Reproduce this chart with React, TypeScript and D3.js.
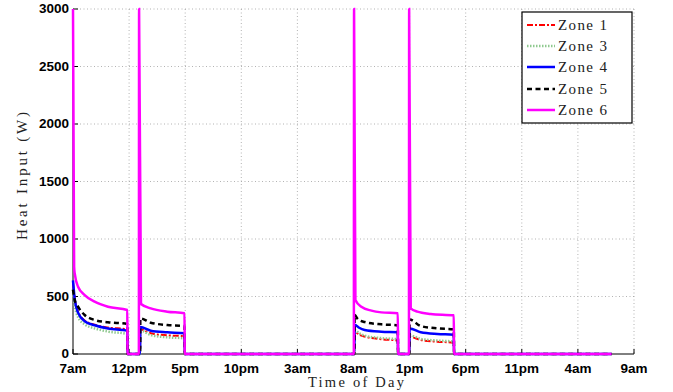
import React from "react";
import * as d3 from "d3";

// Time axis: hours after 7am on day one
const tickHours = [0, 5, 10, 15, 20, 25, 30, 35, 40, 45, 50];
const tickLabels = ["7am", "12pm", "5pm", "10pm", "3am", "8am", "1pm", "6pm", "11pm", "4am", "9am"];
const wattTicks = [0, 500, 1000, 1500, 2000, 2500, 3000];

// Heat input per zone as [hour, watts]
const zone1: [number, number][] = [
  [0, 620], [0.15, 490], [0.45, 370], [1.04, 292], [1.93, 255], [3.12, 230], [4.84, 215], [4.86, 0],
  [5.98, 0], [6.0, 215], [6.93, 180], [8.4, 162], [9.94, 155], [9.96, 0],
  [25.08, 0], [25.1, 195], [25.5, 168], [26.0, 151], [27.48, 128], [28.95, 116], [28.97, 0],
  [29.98, 0], [30.0, 150], [30.99, 122], [32.47, 107], [33.94, 98], [33.96, 0],
  [48, 0],
];
const zone3: [number, number][] = [
  [0, 560], [0.15, 430], [0.45, 320], [1.04, 258], [1.93, 223], [3.12, 195], [4.84, 174], [4.86, 0],
  [5.98, 0], [6.0, 205], [6.93, 165], [8.4, 145], [9.94, 136], [9.96, 0],
  [25.08, 0], [25.1, 210], [25.5, 180], [26.0, 160], [27.48, 138], [28.95, 128], [28.97, 0],
  [29.98, 0], [30.0, 162], [30.99, 132], [32.47, 117], [33.94, 108], [33.96, 0],
  [48, 0],
];
const zone4: [number, number][] = [
  [0, 640], [0.15, 480], [0.45, 360], [1.04, 285], [1.93, 250], [3.12, 222], [4.84, 203], [4.86, 0],
  [5.98, 0], [6.0, 235], [6.93, 203], [8.4, 189], [9.94, 180], [9.96, 0],
  [25.08, 0], [25.1, 255], [25.5, 228], [26.0, 209], [27.48, 194], [28.95, 189], [28.97, 0],
  [29.98, 0], [30.0, 222], [30.99, 189], [32.47, 174], [33.94, 168], [33.96, 0],
  [48, 0],
];
const zone5: [number, number][] = [
  [0, 560], [0.15, 470], [0.45, 411], [1.04, 339], [1.93, 296], [3.12, 276], [4.84, 261], [4.86, 0],
  [5.98, 0], [6.0, 310], [6.93, 272], [8.4, 252], [9.94, 243], [9.96, 0],
  [25.08, 0], [25.1, 340], [25.4, 301], [26.0, 278], [27.48, 258], [28.95, 250], [28.97, 0],
  [29.98, 0], [30.0, 300], [30.99, 243], [32.47, 223], [33.94, 215], [33.96, 0],
  [48, 0],
];
const zone6: [number, number][] = [
  [0, 3000], [0.1, 760], [0.15, 702], [0.45, 585], [1.04, 513], [1.93, 455], [3.12, 411], [4.84, 383], [4.86, 0],
  [5.87, 0], [5.89, 3000], [6.06, 435], [6.93, 397], [8.4, 368], [9.94, 354], [9.96, 0],
  [25.03, 0], [25.05, 3000], [25.17, 470], [25.7, 411], [26.6, 377], [27.48, 362], [28.95, 354], [28.97, 0],
  [29.94, 0], [29.96, 3000], [30.1, 397], [30.69, 368], [31.88, 348], [33.94, 336], [33.96, 0],
  [48, 0],
];

const zoneNames = ["Zone 1", "Zone 3", "Zone 4", "Zone 5", "Zone 6"];
const zoneData = [zone1, zone3, zone4, zone5, zone6];
const zoneStyles = [
  { color: "#ff0000", width: 2, dash: "6,2,2,2" },
  { color: "#8fc98f", width: 2.5, dash: "1.5,1.5" },
  { color: "#0000ff", width: 2.5, dash: "" },
  { color: "#000000", width: 2.5, dash: "5,3.5" },
  { color: "#ff00ff", width: 2.5, dash: "" },
];

const W = 673;
const H = 392;
const M = { left: 73, right: 634, top: 9, bottom: 354 };

export default function App() {
  const x = d3.scaleLinear().domain([0, 50]).range([M.left, M.right]);
  const y = d3.scaleLinear().domain([0, 3000]).range([M.bottom, M.top]);
  const line = d3
    .line<[number, number]>()
    .x((d) => x(d[0]))
    .y((d) => y(d[1]))
    .curve(d3.curveMonotoneX);

  const tickFont = "'Liberation Sans', Arial, Helvetica, sans-serif";
  const serif = "'Liberation Serif', 'DejaVu Serif', serif";

  const legX = 522;
  const legY = 12;
  const legW = 110;
  const legH = 111;
  const rowY = [26, 47, 68, 90, 111];

  return (
    <svg width={W} height={H} style={{ position: "absolute", left: 0, top: 0, background: "#fff" }}>
      <rect x={0} y={0} width={W} height={H} fill="#fff" />
      {/* grid */}
      <g stroke="#a0a0a0" strokeWidth={0.8} strokeDasharray="1,2.5">
        {tickHours.slice(1).map((h) => (
          <line key={"gx" + h} x1={x(h)} x2={x(h)} y1={M.top} y2={M.bottom} />
        ))}
        {wattTicks.slice(1).map((v) => (
          <line key={"gy" + v} x1={M.left} x2={M.right} y1={y(v)} y2={y(v)} />
        ))}
      </g>
      {/* axes */}
      <g stroke="#000" strokeWidth={1} fill="none">
        <line x1={M.left} x2={M.right} y1={M.bottom} y2={M.bottom} />
        <line x1={M.left} x2={M.left} y1={M.top} y2={M.bottom} />
        {tickHours.map((h) => (
          <line key={"tx" + h} x1={x(h)} x2={x(h)} y1={M.bottom} y2={M.bottom - 5} />
        ))}
        {wattTicks.map((v) => (
          <line key={"ty" + v} x1={M.left} x2={M.left + 5} y1={y(v)} y2={y(v)} />
        ))}
      </g>
      {/* series */}
      {zoneData.map((data, i) => (
        <path
          key={zoneNames[i]}
          d={line(data) || ""}
          fill="none"
          stroke={zoneStyles[i].color}
          strokeWidth={zoneStyles[i].width}
          strokeDasharray={zoneStyles[i].dash || undefined}
          strokeLinejoin="miter"
        />
      ))}
      {/* tick labels */}
      <g fontFamily={tickFont} fontWeight="bold" fontSize={13.5} fill="#000">
        {tickHours.map((h, i) => (
          <text key={"lx" + h} x={x(h)} y={372.5} textAnchor="middle">
            {tickLabels[i]}
          </text>
        ))}
        {wattTicks.map((v) => (
          <text key={"ly" + v} x={M.left - 4} y={y(v) + 4} textAnchor="end">
            {v}
          </text>
        ))}
      </g>
      {/* axis titles */}
      <text
        x={356}
        y={387}
        fontFamily={serif}
        fontSize={14.5}
        textAnchor="middle"
        textLength={96}
        lengthAdjust="spacing"
        fill="#222"
      >
        Time of Day
      </text>
      <text
        transform={`translate(27,176) rotate(-90)`}
        fontFamily={serif}
        fontSize={15}
        textAnchor="middle"
        textLength={128}
        lengthAdjust="spacing"
        fill="#222"
      >
        Heat Input (W)
      </text>
      {/* legend */}
      <rect x={legX} y={legY} width={legW} height={legH} fill="#fff" stroke="#000" strokeWidth={1.2} />
      {zoneNames.map((name, i) => (
        <g key={"leg" + name}>
          <line
            x1={527}
            x2={555}
            y1={rowY[i] - 1}
            y2={rowY[i] - 1}
            stroke={zoneStyles[i].color}
            strokeWidth={zoneStyles[i].width}
            strokeDasharray={zoneStyles[i].dash || undefined}
          />
          <text
            x={558}
            y={rowY[i] + 4}
            fontFamily={serif}
            fontSize={15}
            textLength={49}
            lengthAdjust="spacing"
            fill="#222"
          >
            {name}
          </text>
        </g>
      ))}
    </svg>
  );
}
